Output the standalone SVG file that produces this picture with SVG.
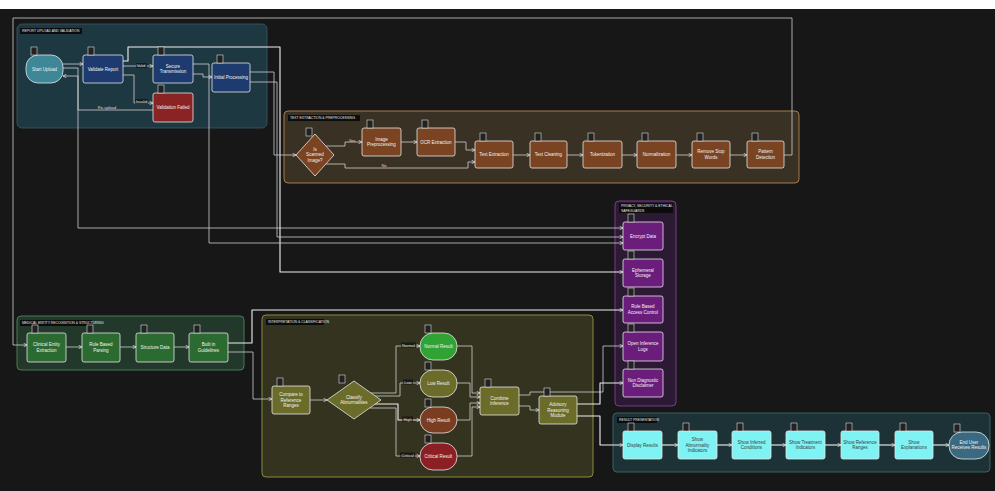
<svg xmlns="http://www.w3.org/2000/svg" width="995" height="491" viewBox="0 0 995 491">
<defs>
<marker id="ah" viewBox="0 0 6 6" refX="5.5" refY="3" markerWidth="4" markerHeight="4" markerUnits="userSpaceOnUse" orient="auto">
<path d="M0.5,0.5 L5.5,3 L0.5,5.5" fill="none" stroke="#d8d8d8" stroke-width="1.2"/>
</marker>
<style>
text{font-family:"Liberation Sans",Arial,sans-serif;text-anchor:middle;}
.nt{font-size:4.5px;fill:#f2f2f2;}
.nd{font-size:4.5px;fill:#3a3a3a;}
.gt{font-size:3.4px;fill:#e8e8e8;text-anchor:start;}
.el{font-size:4px;fill:#dddddd;}
.tb{fill:#0c0c0c;}
.n{stroke:#e6e6e6;stroke-width:0.8;}
.bd{fill:#222;stroke:#dcdcdc;stroke-width:0.6;}
.c{fill:none;stroke:#cfcfcf;stroke-width:0.8;stroke-linejoin:round;marker-end:url(#ah);}
.cw{fill:none;stroke:#f0f0f0;stroke-width:1.1;stroke-linejoin:round;marker-end:url(#ah);}
.g1{fill:#1e3842;stroke:#3d5a64;stroke-width:0.8;}
.g2{fill:#393123;stroke:#a47c4a;stroke-width:1;}
.g3{fill:#2c1a35;stroke:#7b3a8c;stroke-width:1;}
.g4{fill:#22382a;stroke:#4b7b53;stroke-width:1;}
.g5{fill:#33331f;stroke:#8c8c3e;stroke-width:1;}
.g6{fill:#1d3236;stroke:#3a6262;stroke-width:1;}
.navy{fill:#1d3b6e;}
.red{fill:#8a2424;}
.brn{fill:#7a4322;}
.pur{fill:#6b1d7c;}
.grn{fill:#2b6b31;}
.olv{fill:#6b6b2a;}
.cyn{fill:#7ff3f3;}
</style>
</defs>
<rect x="0" y="0" width="995" height="491" fill="#171717"/>
<rect x="0" y="0" width="995" height="9" fill="#ffffff"/>

<!-- groups -->
<g id="grp-upload">
<rect class="g1" x="17" y="24" width="250" height="104" rx="5"/>
<rect class="tb" x="20" y="28" width="62" height="6"/>
<text class="gt" x="22" y="32.3">REPORT UPLOAD AND VALIDATION</text>
</g>
<g id="grp-extract">
<rect class="g2" x="284" y="111" width="515" height="72" rx="4"/>
<rect class="tb" x="288" y="115" width="72" height="6"/>
<text class="gt" x="290" y="119.3">TEXT EXTRACTION &amp; PREPROCESSING</text>
</g>
<g id="grp-privacy">
<rect class="g3" x="615" y="201" width="61" height="205" rx="4"/>
<rect class="tb" x="619" y="203" width="54" height="10"/>
<text class="gt" x="621" y="207.3">PRIVACY, SECURITY &amp; ETHICAL</text>
<text class="gt" x="621" y="211.5">SAFEGUARDS</text>
</g>
<g id="grp-entity">
<rect class="g4" x="17" y="316" width="227" height="54" rx="4"/>
<rect class="tb" x="20" y="320" width="72" height="6"/>
<text class="gt" x="22" y="324.3">MEDICAL ENTITY RECOGNITION &amp; STRUCTURING</text>
</g>
<g id="grp-interp">
<rect class="g5" x="262" y="315" width="331" height="162" rx="4"/>
<rect class="tb" x="266" y="319" width="58" height="6"/>
<text class="gt" x="268" y="323.3">INTERPRETATION &amp; CLASSIFICATION</text>
</g>
<g id="grp-result">
<rect class="g6" x="613" y="413" width="377" height="59" rx="4"/>
<rect class="tb" x="617" y="417" width="40" height="6"/>
<text class="gt" x="619" y="421.3">RESULT PRESENTATION</text>
</g>

<!-- connectors -->
<g id="connectors">
<path class="c" d="M63,64 H83"/>
<path class="c" d="M63,68 H78 V228 H623"/>
<path class="c" d="M123,66 H153"/>
<path class="c" d="M123,75 H134 V103 H153"/>
<path class="c" d="M153,110 H78 V76 H63"/>
<path class="cw" d="M123,61 H128 V47 H280 V272 H623"/>
<path class="c" d="M193,74 H203 V77 H212"/>
<path class="c" d="M193,64 H209 V243 H623"/>
<path class="c" d="M250,72 H274 V155 H296"/>
<path class="c" d="M250,82 H277 V237 H623"/>

<path class="c" d="M326,146 H345 V142 H362"/>
<path class="c" d="M326,164 H345 V168 H468 V162 H475"/>
<path class="c" d="M401,142 H417"/>
<path class="c" d="M455,142 H466 V150 H475"/>
<path class="c" d="M513,155 H530"/>
<path class="c" d="M567,155 H583"/>
<path class="c" d="M622,155 H637"/>
<path class="c" d="M676,155 H692"/>
<path class="c" d="M730,155 H747"/>
<path class="c" d="M784,155 H792 V18 H13 V345 H27"/>

<path class="c" d="M66,347 H82"/>
<path class="c" d="M120,347 H136"/>
<path class="c" d="M174,347 H189"/>
<path class="cw" d="M228,343 H252 V310 H623"/>
<path class="c" d="M228,352 H253 V399 H272"/>

<path class="c" d="M310,400 H327"/>
<path class="c" d="M371,393 H396 V346 H420"/>
<path class="c" d="M375,396 H400 V383 H420"/>
<path class="cw" d="M375,404 H398 V420 H420"/>
<path class="c" d="M370,408 H396 V456 H420"/>
<path class="c" d="M457,346 H472 V393 H480"/>
<path class="c" d="M457,383 H470 V397 H480"/>
<path class="c" d="M457,420 H470 V403 H480"/>
<path class="c" d="M457,456 H472 V407 H480"/>
<path class="c" d="M519,406 H530 V410 H539"/>
<path class="c" d="M519,395 H530 V392 H603 V346 H623"/>
<path class="cw" d="M577,404 H600 V383 H623"/>
<path class="cw" d="M577,416 H600 V445 H623"/>

<path class="cw" d="M662,445 H678"/>
<path class="cw" d="M717,445 H732"/>
<path class="cw" d="M771,445 H786"/>
<path class="cw" d="M825,445 H841"/>
<path class="cw" d="M879,445 H895"/>
<path class="cw" d="M933,445 H949"/>

<rect class="tb" x="136" y="63" width="11" height="5" fill-opacity="0.6"/>
<text class="el" x="141" y="67">Valid</text>
<rect class="tb" x="135" y="99" width="13" height="5" fill-opacity="0.6"/>
<text class="el" x="141.5" y="103">Invalid</text>
<text class="el" x="107" y="108.5">Re-upload</text>
<text class="el" x="352" y="142">Yes</text>
<text class="el" x="384" y="166.5">No</text>
<rect class="tb" x="401" y="342.5" width="15" height="5" fill-opacity="0.6"/>
<text class="el" x="408.5" y="346.5">Normal</text>
<rect class="tb" x="403" y="379.5" width="10" height="5" fill-opacity="0.6"/>
<text class="el" x="408" y="383.5">Low</text>
<rect class="tb" x="402" y="416.5" width="11" height="5" fill-opacity="0.6"/>
<text class="el" x="407.5" y="420.5">High</text>
<rect class="tb" x="400" y="452.5" width="15" height="5" fill-opacity="0.6"/>
<text class="el" x="407.5" y="456.5">Critical</text>
</g>

<!-- nodes: upload group -->
<g id="n-start"><rect class="n" x="26" y="55" width="37" height="28" rx="12" fill="#3d8797"/><rect class="bd" x="31" y="47" width="6" height="8"/><text class="nt" x="44.5" y="70.6">Start Upload</text></g>
<g id="n-validate"><rect class="n navy" x="83" y="55" width="40" height="28" rx="2"/><rect class="bd" x="88" y="47" width="6" height="8"/><text class="nt" x="103" y="70.6">Validate Report</text></g>
<g id="n-secure"><rect class="n navy" x="153" y="55" width="40" height="28" rx="2"/><rect class="bd" x="158" y="47" width="6" height="8"/><text class="nt" x="173" y="67.6">Secure</text><text class="nt" x="173" y="73.2">Transmission</text></g>
<g id="n-failed"><rect class="n red" x="153" y="93" width="40" height="29" rx="2"/><rect class="bd" x="158" y="85" width="6" height="8"/><text class="nt" x="173" y="109.1">Validation Failed</text></g>
<g id="n-initial"><rect class="n navy" x="212" y="63" width="38" height="29" rx="2"/><rect class="bd" x="217" y="55" width="6" height="8"/><text class="nt" x="231" y="79.1">Initial Processing</text></g>

<!-- extraction group -->
<g id="n-scanned"><polygon class="n brn" points="315,134 334,155 315,176 296,155"/><rect class="bd" x="306" y="128" width="6" height="8"/><text class="nt" x="315" y="150.5">Is</text><text class="nt" x="315" y="156">Scanned</text><text class="nt" x="315" y="161.5">Image?</text></g>
<g id="n-imgprep"><rect class="n brn" x="362" y="128" width="39" height="28" rx="2"/><rect class="bd" x="367" y="120" width="6" height="8"/><text class="nt" x="381.5" y="140.6">Image</text><text class="nt" x="381.5" y="146.2">Preprocessing</text></g>
<g id="n-ocr"><rect class="n brn" x="417" y="128" width="38" height="28" rx="2"/><rect class="bd" x="422" y="120" width="6" height="8"/><text class="nt" x="436" y="143.6">OCR Extraction</text></g>
<g id="n-textext"><rect class="n brn" x="475" y="141" width="38" height="27" rx="2"/><rect class="bd" x="480" y="133" width="6" height="8"/><text class="nt" x="494" y="156.1">Text Extraction</text></g>
<g id="n-clean"><rect class="n brn" x="530" y="141" width="37" height="27" rx="2"/><rect class="bd" x="535" y="133" width="6" height="8"/><text class="nt" x="548.5" y="156.1">Text Cleaning</text></g>
<g id="n-token"><rect class="n brn" x="583" y="141" width="39" height="27" rx="2"/><rect class="bd" x="588" y="133" width="6" height="8"/><text class="nt" x="602.5" y="156.1">Tokenization</text></g>
<g id="n-norm"><rect class="n brn" x="637" y="141" width="39" height="27" rx="2"/><rect class="bd" x="642" y="133" width="6" height="8"/><text class="nt" x="656.5" y="156.1">Normalization</text></g>
<g id="n-stop"><rect class="n brn" x="692" y="141" width="38" height="27" rx="2"/><rect class="bd" x="697" y="133" width="6" height="8"/><text class="nt" x="711" y="153.2">Remove Stop</text><text class="nt" x="711" y="158.8">Words</text></g>
<g id="n-pattern"><rect class="n brn" x="747" y="141" width="37" height="27" rx="2"/><rect class="bd" x="752" y="133" width="6" height="8"/><text class="nt" x="765.5" y="153.2">Pattern</text><text class="nt" x="765.5" y="158.8">Detection</text></g>

<!-- privacy group -->
<g id="n-encrypt"><rect class="n pur" x="623" y="222" width="40" height="28" rx="2"/><rect class="bd" x="628" y="214" width="6" height="8"/><text class="nt" x="643" y="237.6">Encrypt Data</text></g>
<g id="n-ephemeral"><rect class="n pur" x="623" y="259" width="40" height="28" rx="2"/><rect class="bd" x="628" y="251" width="6" height="8"/><text class="nt" x="643" y="271.6">Ephemeral</text><text class="nt" x="643" y="277.2">Storage</text></g>
<g id="n-rbac"><rect class="n pur" x="623" y="296" width="40" height="27" rx="2"/><rect class="bd" x="628" y="288" width="6" height="8"/><text class="nt" x="643" y="308.2">Role Based</text><text class="nt" x="643" y="313.8">Access Control</text></g>
<g id="n-logs"><rect class="n pur" x="623" y="332" width="40" height="29" rx="2"/><rect class="bd" x="628" y="324" width="6" height="8"/><text class="nt" x="643" y="345.2">Open Inference</text><text class="nt" x="643" y="350.8">Logs</text></g>
<g id="n-disclaimer"><rect class="n pur" x="623" y="369" width="40" height="28" rx="2"/><rect class="bd" x="628" y="361" width="6" height="8"/><text class="nt" x="643" y="381.6">Non Diagnostic</text><text class="nt" x="643" y="387.2">Disclaimer</text></g>

<!-- entity group -->
<g id="n-clinical"><rect class="n grn" x="27" y="333" width="39" height="29" rx="2"/><rect class="bd" x="32" y="325" width="6" height="8"/><text class="nt" x="46.5" y="346.2">Clinical Entity</text><text class="nt" x="46.5" y="351.8">Extraction</text></g>
<g id="n-rule"><rect class="n grn" x="82" y="333" width="38" height="29" rx="2"/><rect class="bd" x="87" y="325" width="6" height="8"/><text class="nt" x="101" y="346.2">Rule Based</text><text class="nt" x="101" y="351.8">Parsing</text></g>
<g id="n-structure"><rect class="n grn" x="136" y="333" width="38" height="29" rx="2"/><rect class="bd" x="141" y="325" width="6" height="8"/><text class="nt" x="155" y="349.1">Structure Data</text></g>
<g id="n-guidelines"><rect class="n grn" x="189" y="333" width="39" height="29" rx="2"/><rect class="bd" x="194" y="325" width="6" height="8"/><text class="nt" x="208.5" y="346.2">Built in</text><text class="nt" x="208.5" y="351.8">Guidelines</text></g>

<!-- interpretation group -->
<g id="n-compare"><rect class="n olv" x="272" y="386" width="38" height="28" rx="2"/><rect class="bd" x="277" y="378" width="6" height="8"/><text class="nt" x="291" y="395.9">Compare to</text><text class="nt" x="291" y="401.5">Reference</text><text class="nt" x="291" y="407.1">Ranges</text></g>
<g id="n-classify"><polygon class="n olv" points="354,381 381,400 354,419 327,400"/><rect class="bd" x="339" y="375" width="6" height="8"/><text class="nt" x="354" y="398.7">Classify</text><text class="nt" x="354" y="404.3">Abnormalities</text></g>
<g id="n-normal"><rect class="n" x="420" y="333" width="37" height="27" rx="13" fill="#30a334"/><rect class="bd" x="425" y="325" width="6" height="8"/><text class="nt" x="438.5" y="348.1">Normal Result</text></g>
<g id="n-low"><rect class="n olv" x="420" y="370" width="37" height="27" rx="13"/><rect class="bd" x="425" y="362" width="6" height="8"/><text class="nt" x="438.5" y="385.1">Low Result</text></g>
<g id="n-high"><rect class="n" x="420" y="407" width="37" height="26" rx="13" fill="#7a3d22"/><rect class="bd" x="425" y="399" width="6" height="8"/><text class="nt" x="438.5" y="421.6">High Result</text></g>
<g id="n-critical"><rect class="n" x="420" y="443" width="37" height="27" rx="13" fill="#8b1f24"/><rect class="bd" x="425" y="435" width="6" height="8"/><text class="nt" x="438.5" y="458.1">Critical Result</text></g>
<g id="n-combine"><rect class="n olv" x="480" y="387" width="39" height="28" rx="2"/><rect class="bd" x="485" y="379" width="6" height="8"/><text class="nt" x="499.5" y="399.6">Combine</text><text class="nt" x="499.5" y="405.2">Inference</text></g>
<g id="n-advisory"><rect class="n olv" x="539" y="396" width="38" height="28" rx="2"/><rect class="bd" x="544" y="388" width="6" height="8"/><text class="nt" x="558" y="405.9">Advisory</text><text class="nt" x="558" y="411.5">Reasoning</text><text class="nt" x="558" y="417.1">Module</text></g>

<!-- result group -->
<g id="n-display"><rect class="n cyn" x="623" y="431" width="39" height="28" rx="2"/><rect class="bd" x="628" y="423" width="6" height="8"/><text class="nd" x="642.5" y="446.6">Display Results</text></g>
<g id="n-abnormal"><rect class="n cyn" x="678" y="431" width="39" height="28" rx="2"/><rect class="bd" x="683" y="423" width="6" height="8"/><text class="nd" x="697.5" y="440.9">Show</text><text class="nd" x="697.5" y="446.5">Abnormality</text><text class="nd" x="697.5" y="452.1">Indicators</text></g>
<g id="n-inferred"><rect class="n cyn" x="732" y="431" width="39" height="28" rx="2"/><rect class="bd" x="737" y="423" width="6" height="8"/><text class="nd" x="751.5" y="443.6">Show Inferred</text><text class="nd" x="751.5" y="449.2">Conditions</text></g>
<g id="n-indicators"><rect class="n cyn" x="786" y="431" width="39" height="28" rx="2"/><rect class="bd" x="791" y="423" width="6" height="8"/><text class="nd" x="805.5" y="443.6">Show Treatment</text><text class="nd" x="805.5" y="449.2">Indicators</text></g>
<g id="n-ranges"><rect class="n cyn" x="841" y="431" width="38" height="28" rx="2"/><rect class="bd" x="846" y="423" width="6" height="8"/><text class="nd" x="860" y="443.6">Show Reference</text><text class="nd" x="860" y="449.2">Ranges</text></g>
<g id="n-explain"><rect class="n cyn" x="895" y="431" width="38" height="28" rx="2"/><rect class="bd" x="900" y="423" width="6" height="8"/><text class="nd" x="914" y="443.6">Show</text><text class="nd" x="914" y="449.2">Explanations</text></g>
<g id="n-end"><rect class="n" x="949" y="432" width="40" height="27" rx="13" fill="#3a6a82"/><rect class="bd" x="954" y="424" width="6" height="8"/><text class="nt" x="969" y="443.6">End User</text><text class="nt" x="969" y="449.2">Receives Results</text></g>
</svg>
